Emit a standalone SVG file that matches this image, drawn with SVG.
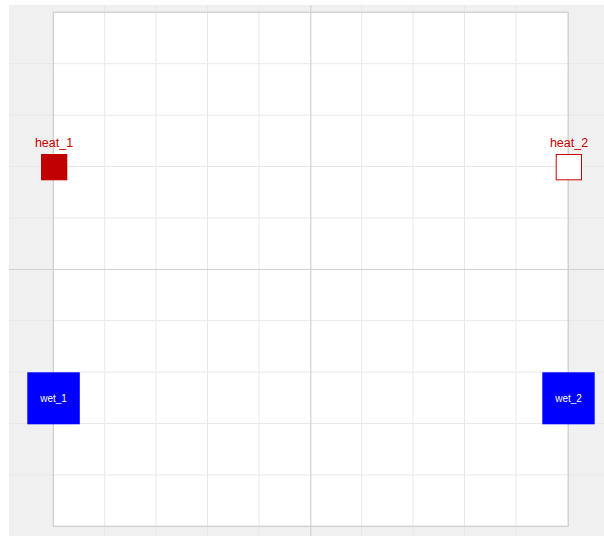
<svg xmlns="http://www.w3.org/2000/svg" width="604" height="536" viewBox="0 0 604 536">
<style>
.g{stroke:#e8e8e8;stroke-width:1}
.c{stroke:#d2d2d2;stroke-width:1.2}
.lbl{font-family:"Liberation Sans",Arial,sans-serif;font-size:12.5px;fill:#cc0000;text-anchor:middle}
.wl{font-family:"Liberation Sans",Arial,sans-serif;font-size:10px;fill:#ffffff;text-anchor:middle}
</style>
<rect x="0" y="0" width="604" height="536" fill="#ffffff"/>
<rect x="9" y="5" width="595" height="531" fill="#f0f0f0"/>
<rect x="53.3" y="12.3" width="514.5" height="514" fill="#ffffff"/>
<g id="grid">
<g class="g">
<line x1="104.7" y1="5" x2="104.7" y2="536"/>
<line x1="156.1" y1="5" x2="156.1" y2="536"/>
<line x1="207.5" y1="5" x2="207.5" y2="536"/>
<line x1="258.9" y1="5" x2="258.9" y2="536"/>
<line x1="361.7" y1="5" x2="361.7" y2="536"/>
<line x1="413.1" y1="5" x2="413.1" y2="536"/>
<line x1="464.5" y1="5" x2="464.5" y2="536"/>
<line x1="515.9" y1="5" x2="515.9" y2="536"/>
<line x1="9" y1="63.7" x2="604" y2="63.7"/>
<line x1="9" y1="115.1" x2="604" y2="115.1"/>
<line x1="9" y1="166.5" x2="604" y2="166.5"/>
<line x1="9" y1="217.9" x2="604" y2="217.9"/>
<line x1="9" y1="320.7" x2="604" y2="320.7"/>
<line x1="9" y1="372.1" x2="604" y2="372.1"/>
<line x1="9" y1="423.5" x2="604" y2="423.5"/>
<line x1="9" y1="474.9" x2="604" y2="474.9"/>
</g>
<g class="c">
<line x1="310.8" y1="5" x2="310.8" y2="536"/>
<line x1="9" y1="269.5" x2="604" y2="269.5"/>
</g>
<rect x="53.3" y="12.3" width="514.9" height="514" fill="none" stroke="#cccccc" stroke-width="1.2"/>
</g>
<g id="connectors"></g>
<g id="heat_1">
<rect x="41" y="154" width="26.3" height="26.3" fill="#c00000"/>
<text class="lbl" x="54" y="147">heat_1</text>
</g>
<g id="heat_2">
<rect x="556.2" y="154.5" width="25.3" height="25.3" fill="#ffffff" stroke="#cc0000" stroke-width="1"/>
<text class="lbl" x="569" y="147">heat_2</text>
</g>
<g id="wet_1">
<rect x="27.3" y="372.3" width="52.5" height="52" fill="#0000ff"/>
<text class="wl" x="53.5" y="401.5">wet_1</text>
</g>
<g id="wet_2">
<rect x="542.3" y="372.3" width="52.4" height="52" fill="#0000ff"/>
<text class="wl" x="568.5" y="401.5">wet_2</text>
</g>
</svg>
